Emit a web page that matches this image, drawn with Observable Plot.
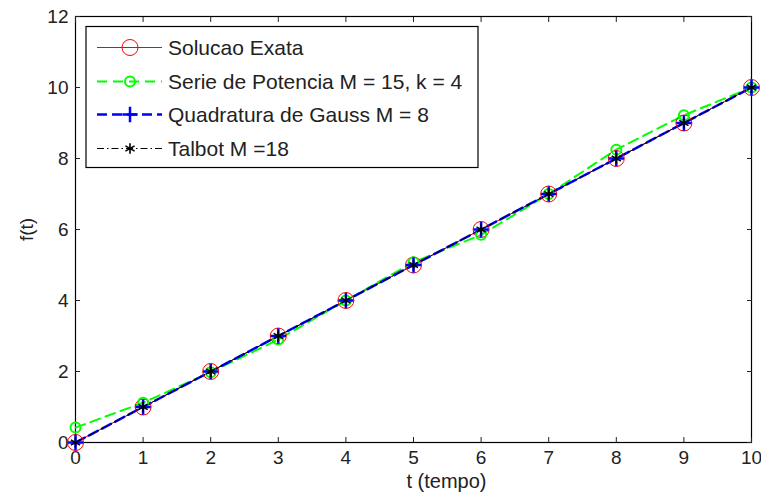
<!DOCTYPE html>
<html><head><meta charset="utf-8">
<script src="https://cdn.jsdelivr.net/npm/d3@7"></script>
<script src="https://cdn.jsdelivr.net/npm/@observablehq/plot@0.6"></script>
<style>
body{margin:0;background:#fff;}
#chart svg{font-family:"Liberation Sans",Arial,sans-serif;}
</style>
</head><body><div id="chart"></div>
<script>
// ---- data ----
const tValues  = [0, 1, 2, 3, 4, 5, 6, 7, 8, 9, 10];
const exata    = [0, 1, 2, 3, 4, 5, 6, 7, 8, 9, 10];
const potencia = [0.42, 1.12, 1.98, 2.9, 4.0, 5.08, 5.85, 7.0, 8.25, 9.22, 10.0];
const gauss    = [0, 1, 2, 3, 4, 5, 6, 7, 8, 9, 10];
const talbot   = [0, 1, 2, 3, 4, 5, 6, 7, 8, 9, 10];
const seriesNames = ["Solucao Exata", "Serie de Potencia M = 15, k = 4", "Quadratura de Gauss M = 8", "Talbot M =18"];
const xTicks = [0, 1, 2, 3, 4, 5, 6, 7, 8, 9, 10];
const yTicks = [0, 2, 4, 6, 8, 10, 12];
const xLabel = "t (tempo)";
const yLabel = "f(t)";

// ---- styles ----
const seriesValues = [exata, potencia, gauss, talbot];
const styles = [
  {stroke: "#ff0000", width: 1,   dash: null,        symbol: "circle",   r: 8, mWidth: 1},
  {stroke: "#00ff00", width: 2,   dash: "10,6",      symbol: "circle",   r: 5, mWidth: 2},
  {stroke: "#0000ff", width: 2.5, dash: "10,5",      symbol: "plus",     r: 5, mWidth: 2.5},
  {stroke: "#000000", width: 1,   dash: "7,3,1.5,3", symbol: "asterisk", r: 5, mWidth: 1.6}
];
const symbolMap = {circle: d3.symbolCircle, plus: d3.symbolPlus, asterisk: d3.symbolAsterisk};

const tables = seriesValues.map(vals => tValues.map((t, i) => ({t, v: vals[i]})));

const marks = [];
tables.forEach((data, k) => {
  const s = styles[k];
  marks.push(Plot.line(data, {x: "t", y: "v", stroke: s.stroke, strokeWidth: s.width, strokeDasharray: s.dash}));
});
tables.forEach((data, k) => {
  const s = styles[k];
  marks.push(Plot.dot(data, {x: "t", y: "v", symbol: s.symbol, r: s.r, stroke: s.stroke, fill: "none", strokeWidth: s.mWidth}));
});

const plot = Plot.plot({
  width: 761,
  height: 500,
  marginTop: 16,
  marginLeft: 75,
  marginRight: 10,
  marginBottom: 58,
  style: {fontSize: "19px", fontFamily: "'Liberation Sans', Arial, sans-serif", color: "#222", background: "#fff"},
  x: {domain: [0, 10]},
  y: {domain: [0, 12]},
  marks: [
    Plot.frame({stroke: "#000", strokeWidth: 1.2}),
    Plot.axisX(xTicks, {anchor: "bottom", tickSize: -5, tickPadding: 13, label: null}),
    Plot.axisX(xTicks, {anchor: "top", tickSize: -5, tickFormat: () => "", label: null}),
    Plot.axisY(yTicks, {anchor: "left", tickSize: -5, tickPadding: 12, label: yLabel, labelAnchor: "center", labelArrow: "none", labelOffset: 56, fontSize: 19}),
    Plot.axisY(yTicks, {anchor: "right", tickSize: -5, tickFormat: () => "", label: null}),
    Plot.text([xLabel], {frameAnchor: "bottom", text: d => d, textAnchor: "start", dx: -7, dy: 45, fontSize: 20, fill: "#222"}),
    ...marks
  ]
});
document.getElementById("chart").appendChild(plot);

// ---- legend ----
const xs = plot.scale("x"), ys = plot.scale("y");
const frameLeft = xs.range[0], frameTop = ys.range[1];
const svg = d3.select(plot);
const g = svg.append("g").attr("transform", `translate(${frameLeft + 11},${frameTop + 10.5})`);
g.append("rect").attr("width", 392).attr("height", 141).attr("fill", "#fff").attr("stroke", "#000").attr("stroke-width", 1.2);
const rowY = [21, 55, 88, 122];
seriesNames.forEach((name, k) => {
  const s = styles[k];
  const y = rowY[k];
  g.append("line").attr("x1", 11).attr("x2", 76).attr("y1", y).attr("y2", y)
    .attr("stroke", s.stroke).attr("stroke-width", s.width)
    .attr("stroke-dasharray", s.dash);
  g.append("path").attr("d", d3.symbol().type(symbolMap[s.symbol]).size(Math.PI * s.r * s.r)())
    .attr("transform", `translate(44,${y})`)
    .attr("fill", "none").attr("stroke", s.stroke).attr("stroke-width", s.mWidth);
  g.append("text").attr("x", 82).attr("y", y).attr("dy", "0.35em")
    .attr("text-anchor", "start")
    .attr("font-size", 21).attr("fill", "#222").text(name);
});
</script>
</body></html>
